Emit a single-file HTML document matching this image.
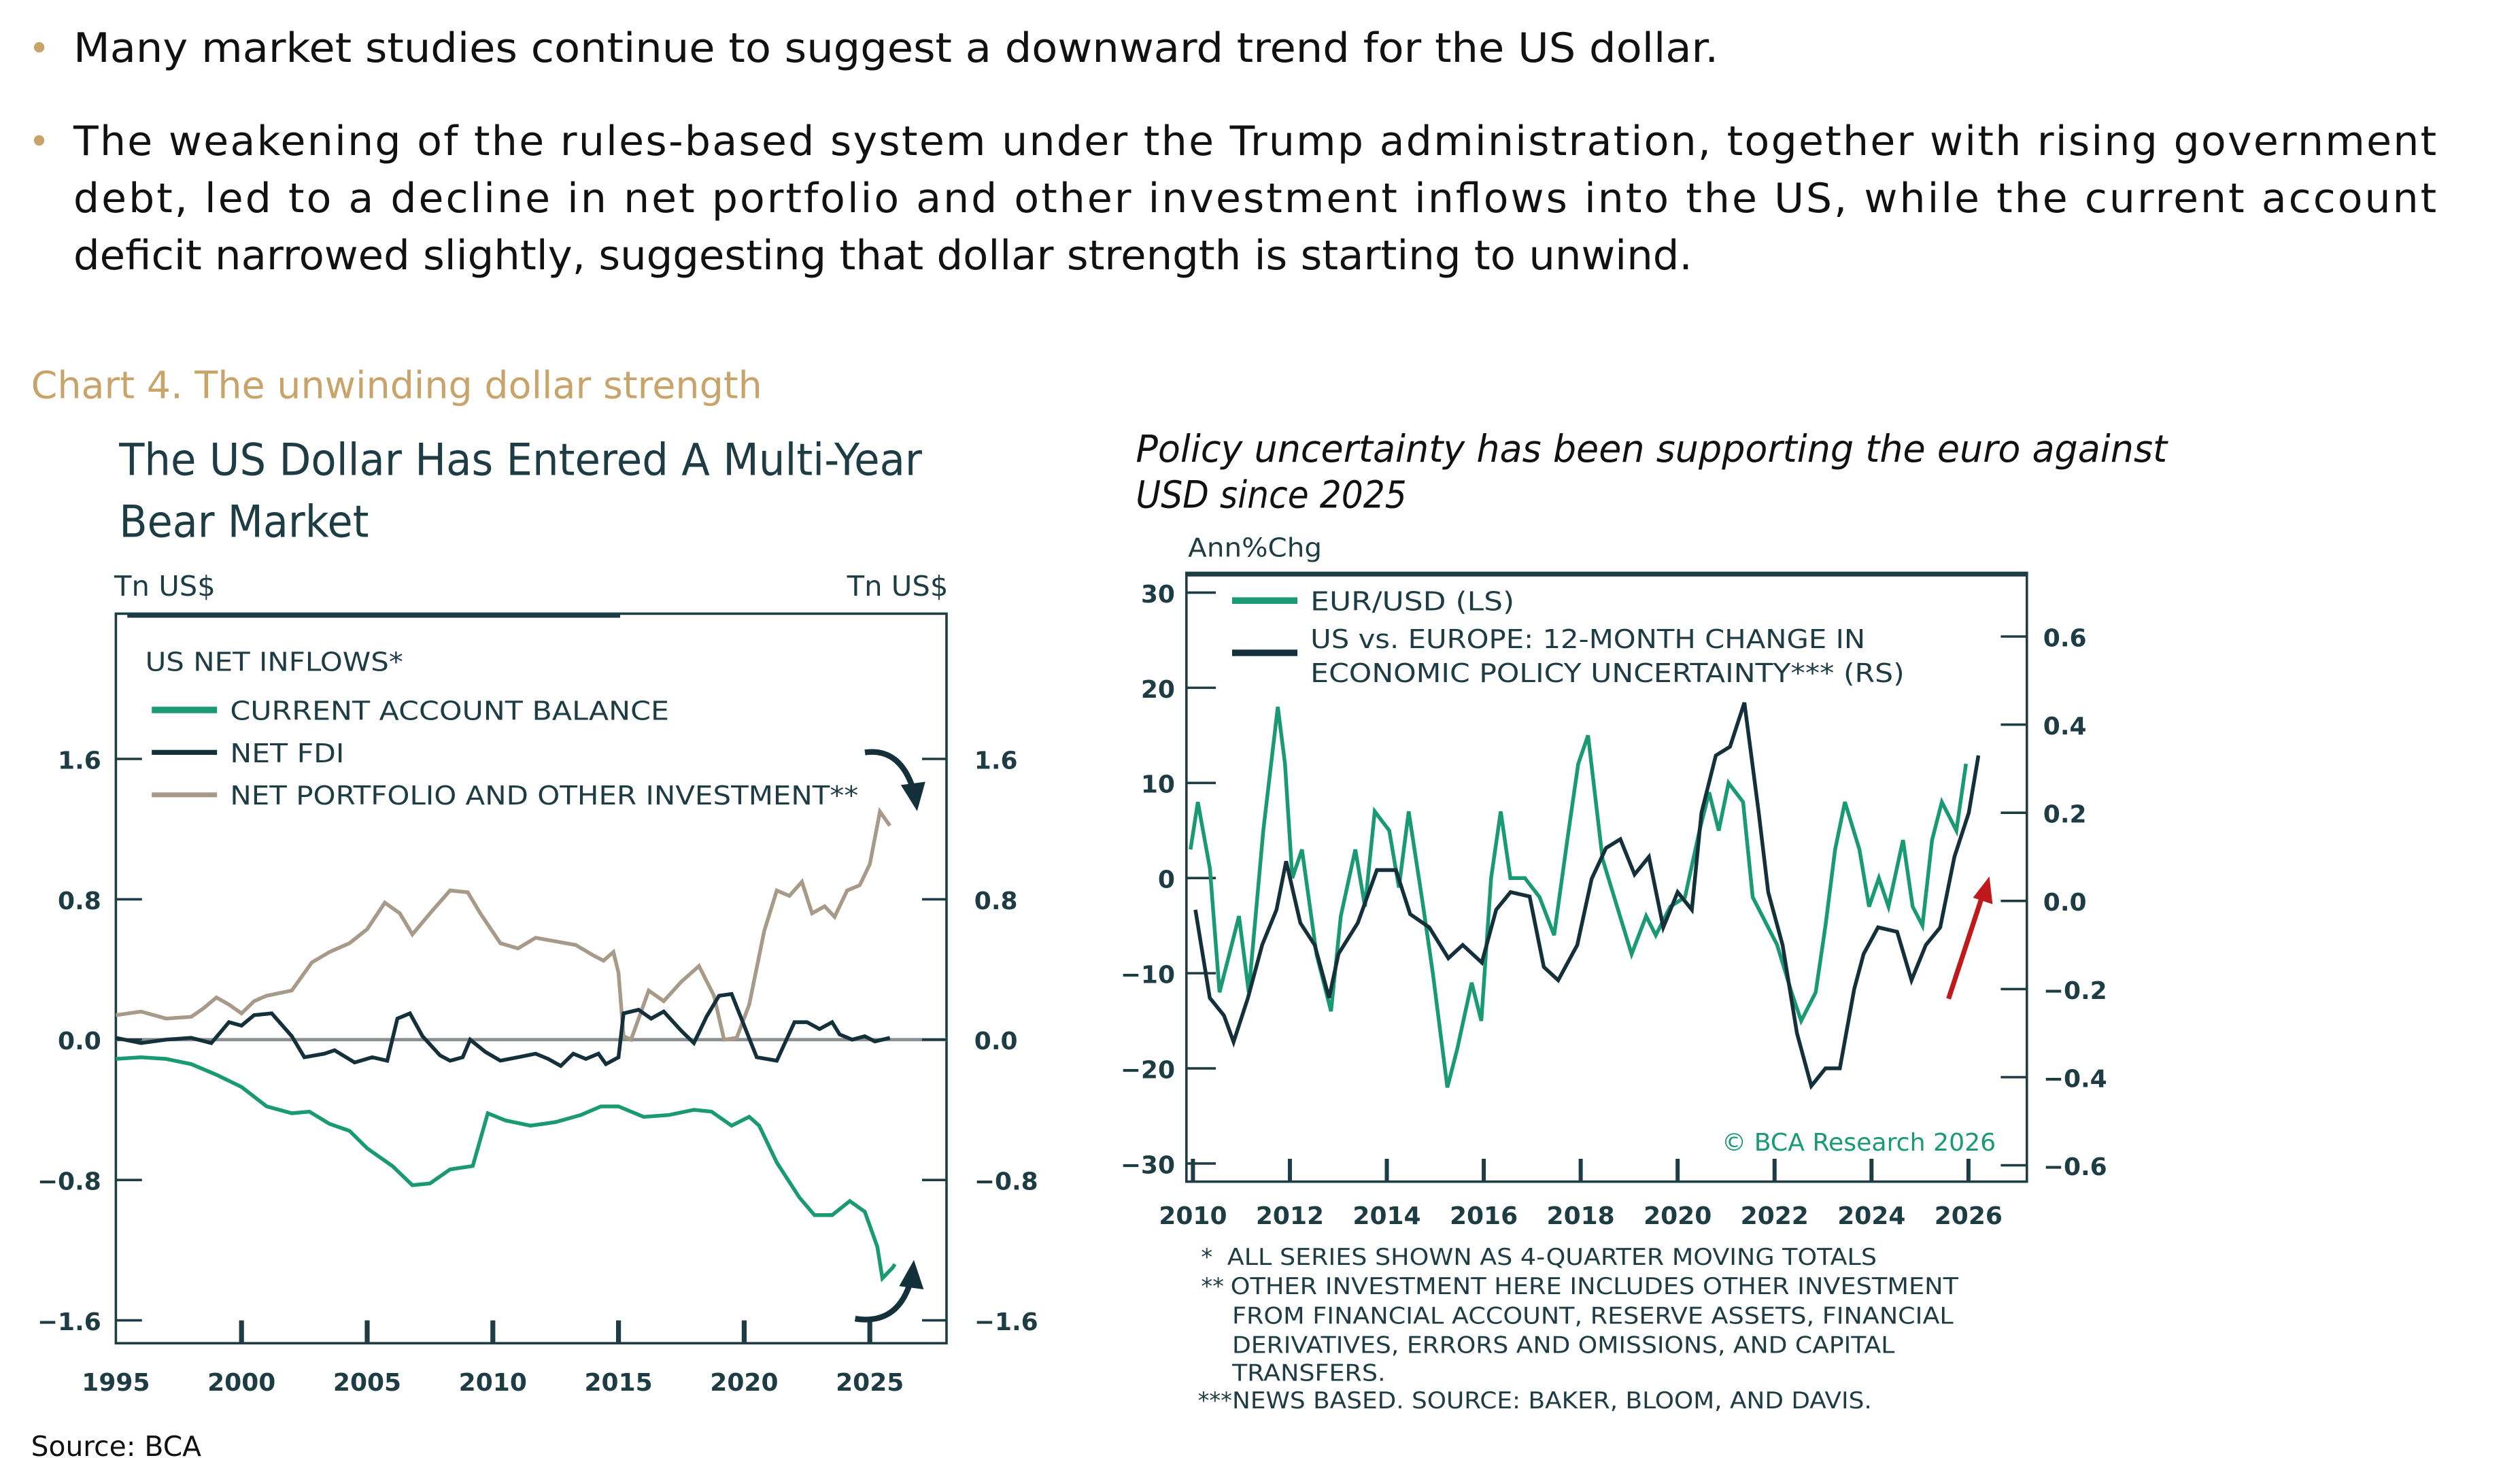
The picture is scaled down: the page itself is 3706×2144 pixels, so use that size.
<!DOCTYPE html>
<html><head><meta charset="utf-8">
<style>
html,body{margin:0;padding:0;background:#fff;}
svg{display:block;}
text{font-family:"DejaVu Sans","Liberation Sans",sans-serif;}
</style></head>
<body>
<svg id="s" width="3706" height="2144" viewBox="0 0 1544.17 893.33" preserveAspectRatio="none" xmlns="http://www.w3.org/2000/svg">
<rect width="1544.17" height="893.33" fill="#fff"/>
<!-- bullets -->
<circle cx="24" cy="29" r="3.2" fill="#c9a46a"/>
<circle cx="24" cy="86" r="3.2" fill="#c9a46a"/>
<g font-size="25" fill="#111" font-family="Liberation Sans, sans-serif">
<text x="45" y="38" textLength="1008" lengthAdjust="spacingAndGlyphs">Many market studies continue to suggest a downward trend for the US dollar.</text>
<text x="45" y="95" textLength="1448" lengthAdjust="spacing">The weakening of the rules-based system under the Trump administration, together with rising government</text>
<text x="45" y="130" textLength="1448" lengthAdjust="spacing">debt, led to a decline in net portfolio and other investment inflows into the US, while the current account</text>
<text x="45" y="165" textLength="992" lengthAdjust="spacingAndGlyphs">deficit narrowed slightly, suggesting that dollar strength is starting to unwind.</text>
</g>
<text x="19" y="244" font-size="23" fill="#c9a46a" font-family="Liberation Sans, sans-serif" textLength="448" lengthAdjust="spacingAndGlyphs">Chart 4. The unwinding dollar strength</text>
<g font-size="27" fill="#1e3c44" font-family="Liberation Sans, sans-serif">
<text x="73" y="291" textLength="492" lengthAdjust="spacingAndGlyphs">The US Dollar Has Entered A Multi-Year</text>
<text x="73" y="329" textLength="153" lengthAdjust="spacingAndGlyphs">Bear Market</text>
</g>
<g font-size="23" fill="#111" font-style="italic" font-family="Liberation Sans, sans-serif">
<text x="696" y="283" textLength="632" lengthAdjust="spacingAndGlyphs">Policy uncertainty has been supporting the euro against</text>
<text x="696" y="311" textLength="166" lengthAdjust="spacingAndGlyphs">USD since 2025</text>
</g>

<!-- LEFT CHART -->
<g fill="#1e3c44" font-size="17">
<text x="70" y="365" textLength="62" lengthAdjust="spacingAndGlyphs">Tn US$</text>
<text x="519" y="365" textLength="62" lengthAdjust="spacingAndGlyphs">Tn US$</text>
</g>
<rect x="71" y="376" width="509" height="447" fill="none" stroke="#1e3c44" stroke-width="1.5"/>
<line x1="78" y1="377" x2="380" y2="377" stroke="#1e3c44" stroke-width="3"/>
<line x1="71" y1="637" x2="580" y2="637" stroke="#8a8f91" stroke-width="2"/>
<g stroke="#1e3c44" stroke-width="1.5" id="lt"></g>
<g font-size="15" fill="#1e3c44" font-weight="bold" id="ll"></g>
<g font-size="16" fill="#1e3c44" font-family="Liberation Sans, sans-serif">
<text x="89" y="411" textLength="158" lengthAdjust="spacingAndGlyphs">US NET INFLOWS*</text>
<text x="141" y="441" textLength="269" lengthAdjust="spacingAndGlyphs">CURRENT ACCOUNT BALANCE</text>
<text x="141" y="467" textLength="70" lengthAdjust="spacingAndGlyphs">NET FDI</text>
<text x="141" y="493" textLength="385" lengthAdjust="spacingAndGlyphs">NET PORTFOLIO AND OTHER INVESTMENT**</text>
</g>
<line x1="93" y1="435" x2="133" y2="435" stroke="#1a9a72" stroke-width="4"/>
<line x1="93" y1="461" x2="133" y2="461" stroke="#14303a" stroke-width="3"/>
<line x1="93" y1="487" x2="133" y2="487" stroke="#a89a88" stroke-width="3"/>
<path id="pPort" fill="none" stroke="#a89a88" stroke-width="2.3"/>
<path id="pFdi" fill="none" stroke="#14303a" stroke-width="2.3"/>
<path id="pCa" fill="none" stroke="#1a9a72" stroke-width="2.3"/>
<!-- arrows -->
<path d="M530,461 Q552,458 560,485" fill="none" stroke="#14303a" stroke-width="3.5"/>
<path d="M552,481 L562,497 L567,479 Z" fill="#14303a"/>
<path d="M524,808 Q550,812 558,785" fill="none" stroke="#14303a" stroke-width="3.5"/>
<path d="M551,788 L560,772 L566,790 Z" fill="#14303a"/>
<text x="19" y="892" font-size="17" fill="#111" font-family="Liberation Sans, sans-serif">Source: BCA</text>

<!-- RIGHT CHART -->
<text x="728" y="341" font-size="16" fill="#1e3c44" textLength="82" lengthAdjust="spacingAndGlyphs">Ann%Chg</text>
<rect x="727" y="351" width="515" height="373" fill="none" stroke="#1e3c44" stroke-width="1.5"/>
<line x1="727" y1="352" x2="1242" y2="352" stroke="#1e3c44" stroke-width="2.5"/>
<g stroke="#1e3c44" stroke-width="1.5" id="rt"></g>
<g font-size="15" fill="#1e3c44" font-weight="bold" id="rl"></g>
<line x1="755" y1="368" x2="795" y2="368" stroke="#1a9a72" stroke-width="4"/>
<line x1="755" y1="400" x2="795" y2="400" stroke="#14303a" stroke-width="4"/>
<g font-size="16" fill="#1e3c44" font-family="Liberation Sans, sans-serif">
<text x="803" y="374" textLength="125" lengthAdjust="spacingAndGlyphs">EUR/USD (LS)</text>
<text x="803" y="397" textLength="340" lengthAdjust="spacingAndGlyphs">US vs. EUROPE: 12-MONTH CHANGE IN</text>
<text x="803" y="418" textLength="364" lengthAdjust="spacingAndGlyphs">ECONOMIC POLICY UNCERTAINTY***  (RS)</text>
</g>
<path id="pEur" fill="none" stroke="#1a9a72" stroke-width="2.3"/>
<path id="pEpu" fill="none" stroke="#14303a" stroke-width="2.3"/>
<line x1="1194" y1="612" x2="1215" y2="548" stroke="#c0191c" stroke-width="3"/>
<path d="M1209,550 L1219,537 L1221,554 Z" fill="#c0191c"/>
<text x="1055" y="705" font-size="15" fill="#1a9a72" font-family="Liberation Serif, serif" textLength="168" lengthAdjust="spacingAndGlyphs">© BCA Research 2026</text>
<g font-size="14" fill="#1e3c44" font-family="Liberation Sans, sans-serif">
<text x="736" y="775">*</text><text x="752" y="775" textLength="398" lengthAdjust="spacingAndGlyphs">ALL SERIES SHOWN AS 4-QUARTER MOVING TOTALS</text>
<text x="736" y="793">**</text><text x="754" y="793" textLength="446" lengthAdjust="spacingAndGlyphs">OTHER INVESTMENT HERE INCLUDES OTHER INVESTMENT</text>
<text x="755" y="811" textLength="442" lengthAdjust="spacingAndGlyphs">FROM FINANCIAL ACCOUNT, RESERVE ASSETS, FINANCIAL</text>
<text x="755" y="829" textLength="406" lengthAdjust="spacingAndGlyphs">DERIVATIVES, ERRORS AND OMISSIONS, AND CAPITAL</text>
<text x="755" y="846" textLength="94" lengthAdjust="spacingAndGlyphs">TRANSFERS.</text>
<text x="734" y="863">***</text><text x="755" y="863" textLength="392" lengthAdjust="spacingAndGlyphs">NEWS BASED. SOURCE: BAKER, BLOOM, AND DAVIS.</text>
</g>
</svg>
<script>
var NS="http://www.w3.org/2000/svg";
function el(p,t,a,txt){var e=document.createElementNS(NS,t);for(var k in a)e.setAttribute(k,a[k]);if(txt!==undefined)e.textContent=txt;p.appendChild(e);return e;}
// left axes
var lt=document.getElementById('lt'),ll=document.getElementById('ll');
[[1.6,465],[0.8,551],[0,637],[-0.8,723],[-1.6,809]].forEach(function(v){
 el(lt,'line',{x1:71,y1:v[1],x2:87,y2:v[1]});el(lt,'line',{x1:565,y1:v[1],x2:580,y2:v[1]});
 var s=v[0]==0?'0.0':(v[0]<0?'\u2212'+(-v[0]).toFixed(1):v[0].toFixed(1));
 el(ll,'text',{x:62,y:v[1]+6,'text-anchor':'end'},s);el(ll,'text',{x:597,y:v[1]+6},s);
});
for(var y=1995;y<=2025;y+=5){var x=71+(y-1995)*15.4;if(y>1995)el(lt,'line',{x1:x,y1:809,x2:x,y2:823,'stroke-width':3});
 el(ll,'text',{x:x,y:852,'text-anchor':'middle'},''+y);}
function LX(y){return 71+(y-1995)*15.4;}function LY(v){return 637-v*107.5;}
function mk(pts,fx,fy){return pts.map(function(p,i){return (i?'L':'M')+fx(p[0]).toFixed(1)+','+fy(p[1]).toFixed(1);}).join('');}
var ca=[[1995,-.11],[1996,-.10],[1997,-.11],[1998,-.14],[1999,-.2],[2000,-.27],[2001,-.38],[2002,-.42],[2002.7,-.41],[2003.5,-.48],[2004.3,-.52],[2005,-.62],[2006,-.72],[2006.8,-.83],[2007.5,-.82],[2008.3,-.74],[2009.2,-.72],[2009.8,-.42],[2010.5,-.46],[2011.5,-.49],[2012.5,-.47],[2013.5,-.43],[2014.3,-.38],[2015,-.38],[2016,-.44],[2017,-.43],[2018,-.40],[2018.7,-.41],[2019.5,-.49],[2020.2,-.44],[2020.6,-.49],[2021.3,-.70],[2022.2,-.90],[2022.8,-1.0],[2023.5,-1.0],[2024.2,-.92],[2024.8,-.98],[2025.3,-1.18],[2025.5,-1.36],[2025.9,-1.30],[2026,-1.28]];
var fdi=[[1995,.01],[1996,-.02],[1997,0],[1998,.01],[1998.8,-.02],[1999.5,.1],[2000,.08],[2000.5,.14],[2001.2,.15],[2002,.02],[2002.5,-.1],[2003.3,-.08],[2003.7,-.06],[2004.5,-.13],[2005.2,-.1],[2005.8,-.12],[2006.2,.12],[2006.7,.15],[2007.2,.02],[2007.9,-.09],[2008.3,-.12],[2008.8,-.1],[2009.1,0],[2009.7,-.07],[2010.3,-.12],[2011,-.1],[2011.7,-.08],[2012.2,-.11],[2012.7,-.15],[2013.2,-.08],[2013.7,-.11],[2014.2,-.08],[2014.5,-.14],[2015,-.1],[2015.2,.15],[2015.8,.17],[2016.3,.12],[2016.8,.16],[2017.5,.05],[2018,-.02],[2018.5,.13],[2019,.25],[2019.5,.26],[2020,.08],[2020.5,-.1],[2021.3,-.12],[2022,.1],[2022.5,.1],[2023,.06],[2023.5,.1],[2023.8,.03],[2024.3,0],[2024.8,.02],[2025.2,-.01],[2025.8,.01]];
var po=[[1995,.14],[1996,.16],[1997,.12],[1998,.13],[1998.5,.18],[1999,.24],[1999.5,.2],[2000,.15],[2000.5,.22],[2001,.25],[2002,.28],[2002.8,.44],[2003.5,.5],[2004.3,.55],[2005,.63],[2005.7,.78],[2006.3,.72],[2006.8,.6],[2007.5,.72],[2008.3,.85],[2009,.84],[2009.5,.72],[2010.3,.55],[2011,.52],[2011.7,.58],[2012.5,.56],[2013.3,.54],[2014,.48],[2014.4,.45],[2014.8,.5],[2015,.38],[2015.2,.02],[2015.5,0],[2016.2,.28],[2016.8,.22],[2017.5,.33],[2018.2,.42],[2018.8,.25],[2019.2,0],[2019.7,.01],[2020.2,.2],[2020.8,.62],[2021.3,.85],[2021.8,.82],[2022.3,.9],[2022.7,.72],[2023.2,.76],[2023.6,.7],[2024.1,.85],[2024.6,.88],[2025,1.0],[2025.4,1.3],[2025.8,1.22]];
document.getElementById('pCa').setAttribute('d',mk(ca,LX,LY));
document.getElementById('pFdi').setAttribute('d',mk(fdi,LX,LY));
document.getElementById('pPort').setAttribute('d',mk(po,LX,LY));
// right axes
var rt=document.getElementById('rt'),rl=document.getElementById('rl');
for(var v=30;v>=-30;v-=10){var yy=538-v*5.83;el(rt,'line',{x1:727,y1:yy,x2:745,y2:yy});el(rl,'text',{x:720,y:yy+6,'text-anchor':'end'},v<0?'\u2212'+(-v):''+v);}
for(var r=0.6;r>-0.7;r-=0.2){var rr=Math.round(r*10)/10,yy=552-rr*270;el(rt,'line',{x1:1226,y1:yy,x2:1242,y2:yy});el(rl,'text',{x:1252,y:yy+6},rr==0?'0.0':(rr<0?'\u2212'+(-rr).toFixed(1):rr.toFixed(1)));}
for(var yr=2010;yr<=2026;yr+=2){var xx=731+(yr-2010)*29.7;el(rt,'line',{x1:xx,y1:710,x2:xx,y2:724,'stroke-width':2.5});el(rl,'text',{x:xx,y:750,'text-anchor':'middle'},''+yr);}
function RX(y){return 731+(y-2010)*29.7;}function RYL(v){return 538-v*5.83;}function RYR(r){return 552-r*270;}
var eur=[[2010,3],[2010.15,8],[2010.4,1],[2010.6,-12],[2010.8,-8],[2011,-4],[2011.2,-12],[2011.5,5],[2011.8,18],[2011.95,12],[2012.1,0],[2012.3,3],[2012.6,-8],[2012.9,-14],[2013.1,-4],[2013.4,3],[2013.6,-3],[2013.8,7],[2014.1,5],[2014.3,-1],[2014.5,7],[2014.8,-3],[2015,-10],[2015.3,-22],[2015.5,-18],[2015.8,-11],[2016,-15],[2016.2,0],[2016.4,7],[2016.6,0],[2016.9,0],[2017.2,-2],[2017.5,-6],[2017.8,5],[2018,12],[2018.2,15],[2018.5,2],[2018.8,-3],[2019.1,-8],[2019.4,-4],[2019.6,-6],[2019.9,-3],[2020.2,-2],[2020.5,5],[2020.7,9],[2020.9,5],[2021.1,10],[2021.4,8],[2021.6,-2],[2021.9,-5],[2022.1,-7],[2022.4,-12],[2022.6,-15],[2022.9,-12],[2023.1,-5],[2023.3,3],[2023.5,8],[2023.8,3],[2024,-3],[2024.2,0],[2024.4,-3],[2024.7,4],[2024.9,-3],[2025.1,-5],[2025.3,4],[2025.5,8],[2025.8,5],[2026,12]];
var epu=[[2010,-0.02],[2010.3,-0.22],[2010.6,-0.26],[2010.8,-0.32],[2011.1,-0.22],[2011.4,-0.1],[2011.7,-0.02],[2011.9,0.09],[2012.2,-0.05],[2012.5,-0.1],[2012.8,-0.22],[2013,-0.12],[2013.4,-0.05],[2013.8,0.07],[2014.2,0.07],[2014.5,-0.03],[2014.9,-0.06],[2015.3,-0.13],[2015.6,-0.1],[2016,-0.14],[2016.3,-0.02],[2016.6,0.02],[2017,0.01],[2017.3,-0.15],[2017.6,-0.18],[2018,-0.1],[2018.3,0.05],[2018.6,0.12],[2018.9,0.14],[2019.2,0.06],[2019.5,0.1],[2019.8,-0.06],[2020.1,0.02],[2020.4,-0.02],[2020.6,0.2],[2020.9,0.33],[2021.2,0.35],[2021.5,0.45],[2021.8,0.2],[2022,0.02],[2022.3,-0.1],[2022.6,-0.3],[2022.9,-0.42],[2023.2,-0.38],[2023.5,-0.38],[2023.8,-0.2],[2024,-0.12],[2024.3,-0.06],[2024.7,-0.07],[2025,-0.18],[2025.3,-0.1],[2025.6,-0.06],[2025.9,0.1],[2026.2,0.2],[2026.4,0.33]];
document.getElementById('pEur').setAttribute('d',mk(eur,function(y){return RX(y-0.05);},RYL));
document.getElementById('pEpu').setAttribute('d',mk(epu,function(y){return RX(y*0.985+30.2);},RYR));
</script>
</body></html>
